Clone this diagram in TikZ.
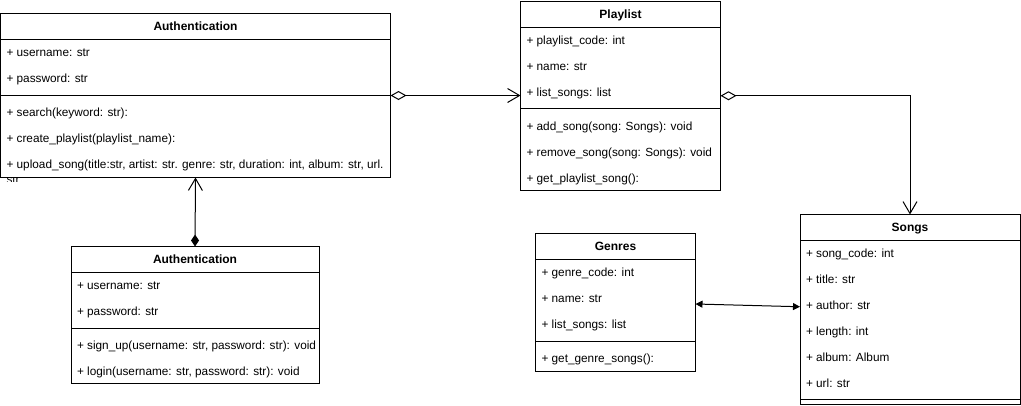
\documentclass[tikz,border=0pt]{standalone}
\usepackage{fontspec}
\setmainfont{Liberation Sans}
\usetikzlibrary{arrows.meta}
\tikzset{
  box/.style={draw, line width=1pt, inner sep=0pt, outer sep=0pt, anchor=north west, fill=white},
  sep/.style={line width=1pt},
  attr/.style={anchor=base west, inner sep=0pt, outer sep=0pt, font=\fontsize{11.8pt}{14.4pt}\selectfont},
  ttl/.style={anchor=base, inner sep=0pt, outer sep=0pt, font=\fontsize{12pt}{14.4pt}\selectfont\bfseries},
  conn/.style={line width=1pt, line join=miter},
  odia/.style={conn, {Diamond[open,length=16pt,width=9pt]}-{Straight Barb[length=12pt,width=14pt]}},
  fdia/.style={conn, {Diamond[length=12pt,width=8pt]}-{Straight Barb[length=12pt,width=14pt]}},
  bidir/.style={conn, {Triangle[length=7pt,width=7pt]}-{Triangle[length=7pt,width=7pt]}}
}
\begin{document}
\begin{tikzpicture}[x=1pt,y=-1pt]
\useasboundingbox (0,0) rectangle (1021,405);

% ---- Authentication (top) ----
\node[box, minimum width=390pt, minimum height=164pt] (a1) at (0.5,13.5) {};
\draw[sep] (a1.west |- 0,39.5) -- (a1.east |- 0,39.5);
\draw[sep] (a1.west |- 0,95.5) -- (a1.east |- 0,95.5);
\node[ttl] (a1t) at (195.5,30.7) {Authentication};
\node[attr] (a1r1) at (6.5,56.7) {+ username: str};
\node[attr] (a1r2) at (6.5,82.7) {+ password: str};
\node[attr] (a1r3) at (6.5,116.7) {+ search(keyword: str):};
\node[attr] (a1r4) at (6.5,142.7) {+ create\_playlist(playlist\_name):};
\node[attr] (a1r5) at (6.5,168.7) {+ upload\_song(title:str, artist: str. genre: str, duration: int, album: str, url.};
\begin{scope}
\clip (0,177) rectangle (60,181.5);
\node[attr] (a1r6) at (6.5,183.1) {str};
\end{scope}

% ---- Playlist ----
\node[box, minimum width=200pt, minimum height=189.5pt] (pl) at (520.5,1) {};
\draw[sep] (pl.west |- 0,27) -- (pl.east |- 0,27);
\draw[sep] (pl.west |- 0,108.5) -- (pl.east |- 0,108.5);
\node[ttl] (plt) at (620.5,18.2) {Playlist};
\node[attr] (plr1) at (526.5,44.2) {+ playlist\_code: int};
\node[attr] (plr2) at (526.5,70.2) {+ name: str};
\node[attr] (plr3) at (526.5,96.2) {+ list\_songs: list};
\node[attr] (plr4) at (526.5,130.2) {+ add\_song(song: Songs): void};
\node[attr] (plr5) at (526.5,156.2) {+ remove\_song(song: Songs): void};
\node[attr] (plr6) at (526.5,182.2) {+ get\_playlist\_song():};

% ---- Authentication (bottom) ----
\node[box, minimum width=248pt, minimum height=137pt] (au) at (71,246.5) {};
\draw[sep] (au.west |- 0,272.5) -- (au.east |- 0,272.5);
\draw[sep] (au.west |- 0,328.5) -- (au.east |- 0,328.5);
\node[ttl] (aut) at (195,263.7) {Authentication};
\node[attr] (aur1) at (77,289.7) {+ username: str};
\node[attr] (aur2) at (77,315.7) {+ password: str};
\node[attr] (aur3) at (77,349.7) {+ sign\_up(username: str, password: str): void};
\node[attr] (aur4) at (77,375.7) {+ login(username: str, password: str): void};

% ---- Genres ----
\node[box, minimum width=160pt, minimum height=138pt] (ge) at (535.5,233) {};
\draw[sep] (ge.west |- 0,259) -- (ge.east |- 0,259);
\draw[sep] (ge.west |- 0,341) -- (ge.east |- 0,341);
\node[ttl] (get) at (615.5,250.2) {Genres};
\node[attr] (ger1) at (541.5,276.2) {+ genre\_code: int};
\node[attr] (ger2) at (541.5,302.2) {+ name: str};
\node[attr] (ger3) at (541.5,328.2) {+ list\_songs: list};
\node[attr] (ger4) at (541.5,362.2) {+ get\_genre\_songs():};

% ---- Songs ----
\node[box, minimum width=220pt, minimum height=189.5pt] (so) at (800,214.5) {};
\draw[sep] (so.west |- 0,240.5) -- (so.east |- 0,240.5);
\draw[sep] (so.west |- 0,399.5) -- (so.east |- 0,399.5);
\node[ttl] (sot) at (910,231.7) {Songs};
\node[attr] (sor1) at (806,257.7) {+ song\_code: int};
\node[attr] (sor2) at (806,283.7) {+ title: str};
\node[attr] (sor3) at (806,309.7) {+ author: str};
\node[attr] (sor4) at (806,335.7) {+ length: int};
\node[attr] (sor5) at (806,361.7) {+ album: Album};
\node[attr] (sor6) at (806,387.7) {+ url: str};

% ---- connectors ----
\coordinate (a1div) at (390.5,95.5);
\draw[odia] (a1div) -- (a1div -| pl.west);
\draw[odia] (pl.east) -| (so.north);
\draw[fdia] (au.north) -- (a1.south);
\draw[bidir] ([yshift=-2pt]ge.east) -- ([yshift=2.5pt]so.west);
\end{tikzpicture}
\end{document}
